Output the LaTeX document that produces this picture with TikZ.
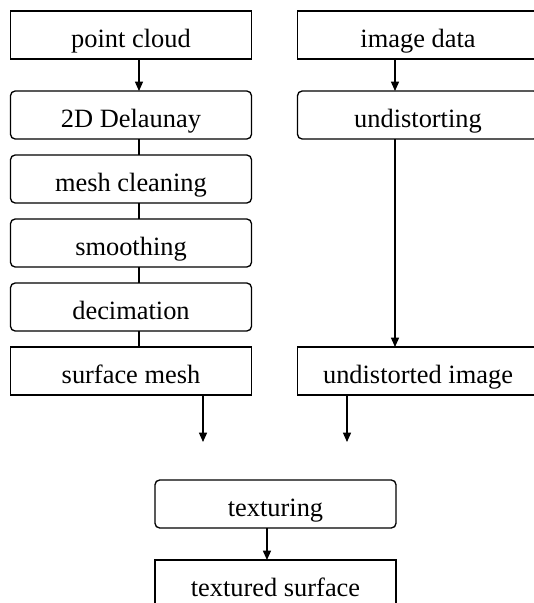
\documentclass[tikz,border=0pt]{standalone}
\usepackage{fontspec}
\setmainfont{Liberation Serif}
\usetikzlibrary{arrows.meta,positioning}

\begin{document}
\begin{tikzpicture}[
  x=0.75pt, y=-0.75pt,
  line width=1pt,
  stage/.style={draw, minimum width=180.75pt, minimum height=36pt, inner sep=0pt, outer sep=0pt, text height=18pt, text depth=0pt, font=\fontsize{19.8}{24}\selectfont},
  proc/.style={stage, rounded corners=3.5pt},
  arr/.style={-{Triangle[length=7pt,width=6pt]}},
]
\useasboundingbox (0,0) rectangle (534,603);
\node[stage] (pc) at (131,35) {point cloud};
\node[proc, below=24pt of pc] (del) {2D Delaunay};
\node[proc, below=12pt of del] (clean) {mesh cleaning};
\node[proc, below=12pt of clean] (smooth) {smoothing};
\node[proc, below=12pt of smooth] (dec) {decimation};
\node[stage, below=12pt of dec] (surf) {surface mesh};
\node[stage] (img) at (418,35) {image data};
\node[proc, below=24pt of img] (und) {undistorting};
\node[stage, below=156pt of und] (uimg) {undistorted image};
\node[proc] (tex) at (275.5,504) {texturing};
\node[stage, below=24pt of tex] (tsurf) {textured surface};
\coordinate (surfend) at (203,442);
\coordinate (uimgend) at (347,442);
\draw[arr] ([xshift=6pt]pc.south) -- ([xshift=6pt]del.north);
\draw ([xshift=6pt]del.south) -- ([xshift=6pt]clean.north);
\draw ([xshift=6pt]clean.south) -- ([xshift=6pt]smooth.north);
\draw ([xshift=6pt]smooth.south) -- ([xshift=6pt]dec.north);
\draw ([xshift=6pt]dec.south) -- ([xshift=6pt]surf.north);
\draw[arr] ([xshift=-17.25pt]img.south) -- ([xshift=-17.25pt]und.north);
\draw[arr] ([xshift=-17.25pt]und.south) -- ([xshift=-17.25pt]uimg.north);
\draw[arr] (surf.south -| surfend) -- (surfend);
\draw[arr] (uimg.south -| uimgend) -- (uimgend);
\draw[arr] ([xshift=-6.4pt]tex.south) -- ([xshift=-6.4pt]tsurf.north);
\end{tikzpicture}
\end{document}
